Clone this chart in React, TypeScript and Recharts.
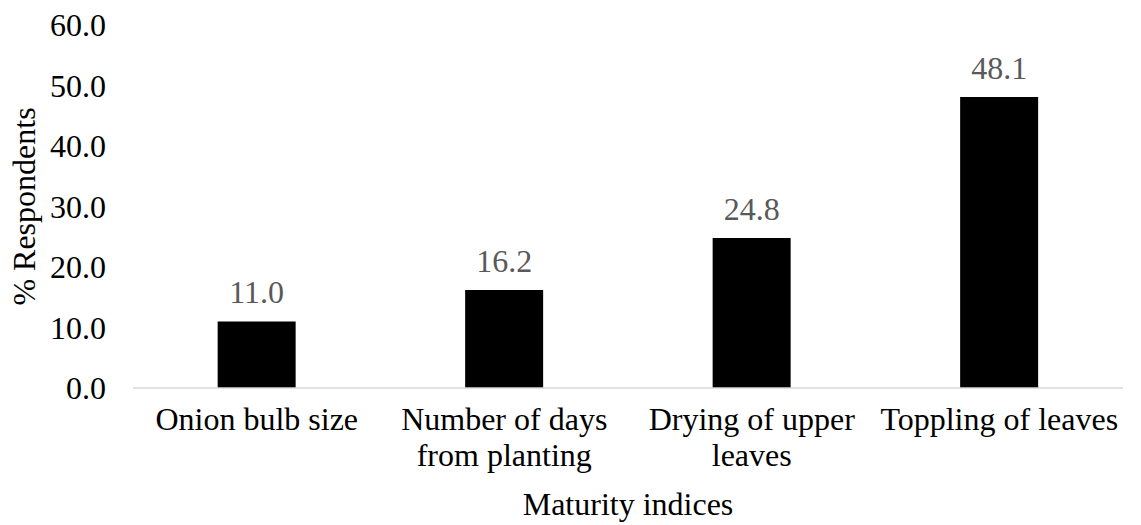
import { BarChart, Bar, XAxis, YAxis, LabelList, Label } from 'recharts';

const categories = [
  'Onion bulb size',
  'Number of days from planting',
  'Drying of upper leaves',
  'Toppling of leaves',
];
const respondents = [11.0, 16.2, 24.8, 48.1];
const tickLines: Record<string, string[]> = {
  'Onion bulb size': ['Onion bulb size'],
  'Number of days from planting': ['Number of days', 'from planting'],
  'Drying of upper leaves': ['Drying of upper', 'leaves'],
  'Toppling of leaves': ['Toppling of leaves'],
};
const yTicks = [0, 10, 20, 30, 40, 50, 60];

const data = categories.map((name, i) => ({ name, value: respondents[i] }));

const font = 'Liberation Serif, Times New Roman, serif';
const size = 32;

function CategoryTick(props: any) {
  const { x, y, payload } = props;
  const lines = tickLines[payload.value] || [payload.value];
  return (
    <text x={x} y={y} textAnchor="middle" fontFamily={font} fontSize={size} fill="#000">
      {lines.map((line, i) => (
        <tspan key={i} x={x} dy={i === 0 ? 34 : 36}>
          {line}
        </tspan>
      ))}
    </text>
  );
}

export default function App() {
  return (
    <div style={{ position: 'absolute', left: 0, top: 0 }}>
      <BarChart
        width={1141}
        height={525}
        data={data}
        margin={{ top: 25, right: 18, bottom: 0, left: 0 }}
        barCategoryGap="34.2%"
      >
        <XAxis
          dataKey="name"
          axisLine={{ stroke: '#d9d9d9', strokeWidth: 1.5 }}
          tickLine={false}
          tick={<CategoryTick />}
          interval={0}
          height={137}
        >
          <Label
            value="Maturity indices"
            position="insideBottom"
            offset={10}
            fontFamily={font}
            fontSize={size}
            fill="#000"
          />
        </XAxis>
        <YAxis
          width={133}
          domain={[0, 60]}
          ticks={yTicks}
          interval={0}
          axisLine={false}
          tickLine={false}
          tickMargin={21}
          tickFormatter={(v: number) => v.toFixed(1)}
          tick={{ fontFamily: font, fontSize: size, fill: '#000' }}
        >
          <Label
            content={({ viewBox }: any) => {
              const cy = viewBox.y + viewBox.height / 2;
              return (
                <text
                  x={35}
                  y={cy}
                  transform={`rotate(-90, 35, ${cy})`}
                  textAnchor="middle"
                  fontFamily={font}
                  fontSize={size}
                  fill="#000"
                >
                  % Respondents
                </text>
              );
            }}
          />
        </YAxis>
        <Bar dataKey="value" fill="#000" isAnimationActive={false}>
          <LabelList
            dataKey="value"
            position="top"
            offset={18}
            formatter={(v: any) => Number(v).toFixed(1)}
            fontFamily={font}
            fontSize={size}
            fill="#595959"
          />
        </Bar>
      </BarChart>
    </div>
  );
}
